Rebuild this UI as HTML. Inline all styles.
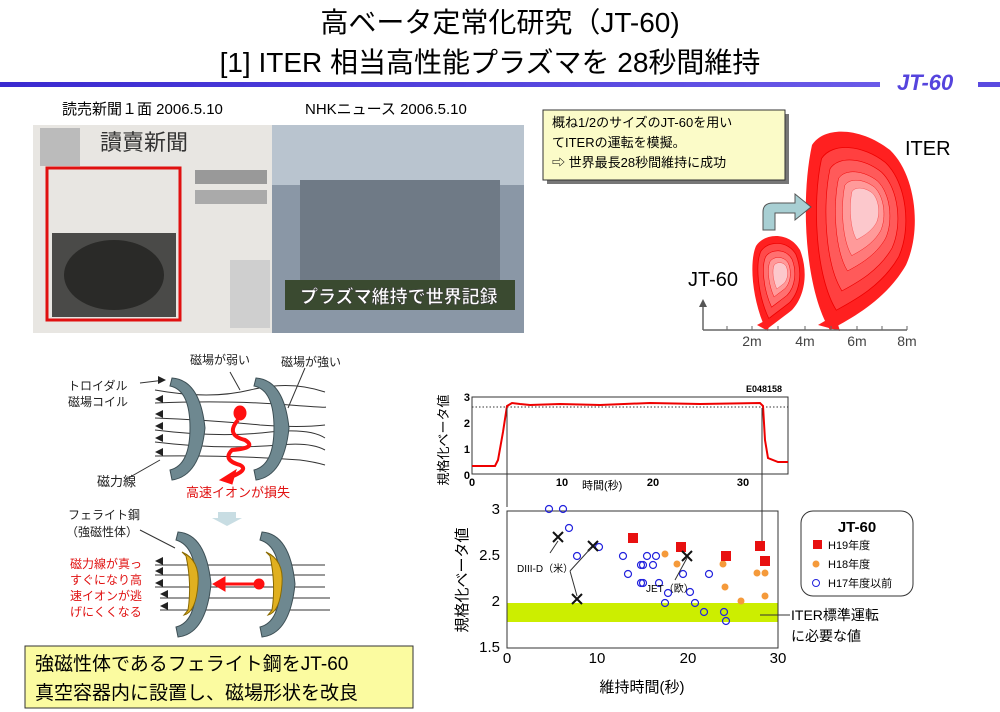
<!DOCTYPE html>
<html><head><meta charset="utf-8"><style>
body{margin:0;background:#fff;width:1000px;height:712px;overflow:hidden}
svg{display:block}
text{font-family:"Liberation Sans","Noto Sans CJK JP",sans-serif}
</style></head><body>
<svg width="1000" height="712" viewBox="0 0 1000 712" xmlns="http://www.w3.org/2000/svg">
<defs>
<linearGradient id="bar" x1="0" x2="1"><stop offset="0" stop-color="#3a2ad0"/><stop offset="1" stop-color="#6a5ae8"/></linearGradient>
<path id="iter" d="M830,330 C805,290 800,200 812,145 C825,125 862,128 890,150 C916,175 922,230 906,265 C886,300 852,318 830,330 Z"/>
<path id="jt" d="M766,330 C752,300 749,262 756,246 C765,232 790,232 800,250 C808,270 806,295 792,310 C782,318 772,325 766,330 Z"/>
</defs>
<!-- title -->
<text x="500" y="32" font-size="28" text-anchor="middle">高ベータ定常化研究（JT-60)</text>
<text x="490" y="72" font-size="28" text-anchor="middle">[1] ITER 相当高性能プラズマを 28秒間維持</text>
<rect x="0" y="82" width="880" height="5" fill="url(#bar)"/>
<rect x="978" y="82" width="22" height="5" fill="#5a4ae0"/>
<text x="897" y="90" font-size="22" font-weight="bold" font-style="italic" fill="#5544dd">JT-60</text>
<!-- photo labels -->
<text x="62" y="114" font-size="15" font-family="Liberation Serif, Noto Serif CJK SC, serif">読売新聞１面 2006.5.10</text>
<text x="305" y="114" font-size="15" font-family="Liberation Serif, Noto Serif CJK SC, serif">NHKニュース 2006.5.10</text>
<!-- newspaper -->
<rect x="33" y="125" width="240" height="208" fill="#e8e6e2"/>
<rect x="40" y="128" width="40" height="38" fill="#bbb"/>
<text x="100" y="150" font-size="22" fill="#333">讀賣新聞</text>
<rect x="195" y="170" width="72" height="14" fill="#999"/>
<rect x="195" y="190" width="72" height="14" fill="#aaa"/>
<rect x="47" y="168" width="133" height="152" fill="none" stroke="#e01010" stroke-width="3"/>
<rect x="52" y="233" width="124" height="84" fill="#4a4a48"/>
<ellipse cx="114" cy="275" rx="50" ry="35" fill="#2a2a28"/>
<rect x="230" y="260" width="40" height="68" fill="#cfcfcf"/>
<!-- NHK -->
<rect x="272" y="125" width="252" height="208" fill="#8a97a6"/>
<rect x="272" y="125" width="252" height="60" fill="#b9c4cf"/>
<rect x="300" y="180" width="200" height="100" fill="#6f7a86"/>
<rect x="285" y="280" width="230" height="30" fill="#3a4a30"/>
<text x="300" y="303" font-size="18" font-weight="bold" fill="#fff" stroke="#333" stroke-width="0.5">プラズマ維持で世界記録</text>
<!-- textbox -->
<rect x="547" y="114" width="242" height="70" fill="#777"/>
<rect x="543" y="110" width="242" height="70" fill="#fbfbc8" stroke="#333"/>
<text x="552" y="127" font-size="13">概ね1/2のサイズのJT-60を用い</text>
<text x="552" y="147" font-size="13">てITERの運転を模擬。</text>
<text x="552" y="167" font-size="13">⇨ 世界最長28秒間維持に成功</text>
<!-- plasmas -->
<g>
<use href="#iter" fill="#ff2020"/>
<use href="#iter" fill="#ff4040" stroke="#e00" transform="translate(865,220) scale(0.82) translate(-865,-220)"/>
<use href="#iter" fill="#ff5a5a" stroke="#e00" transform="translate(865,215) scale(0.66) translate(-865,-215)"/>
<use href="#iter" fill="#ff7a7a" stroke="#e00" transform="translate(865,212) scale(0.5) translate(-865,-212)"/>
<use href="#iter" fill="#ff9a9a" stroke="#e00" transform="translate(865,210) scale(0.38) translate(-865,-210)"/>
<use href="#iter" fill="#fcc8cc" stroke="#e00" transform="translate(866,208) scale(0.26) translate(-866,-208)"/>
<use href="#jt" fill="#ff2020"/>
<use href="#jt" fill="#ff4a4a" stroke="#e00" transform="translate(780,273) scale(0.8) translate(-780,-273)"/>
<use href="#jt" fill="#ff7070" stroke="#e00" transform="translate(780,273) scale(0.6) translate(-780,-273)"/>
<use href="#jt" fill="#ff9a9a" stroke="#e00" transform="translate(780,273) scale(0.42) translate(-780,-273)"/>
<use href="#jt" fill="#fcc8cc" stroke="#e00" transform="translate(781,273) scale(0.28) translate(-781,-273)"/>
<path d="M757,325 L770,318 L768,331 Z" fill="#ff2020"/>
<path d="M818,325 L835,315 L840,331 Z" fill="#ff2020"/>
</g>
<path d="M763,230 V212 Q763,203 773,203 H795 V194 L811,207 L795,220 V213 H775 Q775,213 775,218 V230 Z" fill="#a8cfd3" stroke="#555"/>
<path d="M703,330 H907 M703,330 V305" stroke="#666" stroke-width="1.5" fill="none"/>
<path d="M699,307 L703,299 L707,307 Z" fill="#555"/>
<path d="M727,326V330M752,326V330M778,326V330M805,326V330M831,326V330M857,326V330M882,326V330M907,326V330" stroke="#666"/>
<g font-size="14" fill="#444" text-anchor="middle"><text x="752" y="346">2m</text><text x="805" y="346">4m</text><text x="857" y="346">6m</text><text x="907" y="346">8m</text></g>
<text x="688" y="286" font-size="20">JT-60</text>
<text x="905" y="155" font-size="20">ITER</text>
<!-- left diagram -->
<g font-size="12" fill="#222">
<text x="190" y="364">磁場が弱い</text><text x="281" y="366">磁場が強い</text>
<text x="68" y="390">トロイダル</text><text x="68" y="406">磁場コイル</text>
<text x="97" y="486" font-size="13">磁力線</text>
<text x="186" y="497" fill="#e01010" font-size="13">高速イオンが損失</text>
<text x="68" y="519">フェライト鋼</text><text x="66" y="536">（強磁性体）</text>
</g>
<g font-size="12" fill="#e01010"><text x="70" y="568">磁力線が真っ</text><text x="70" y="584">すぐになり高</text><text x="70" y="600">速イオンが逃</text><text x="70" y="616">げにくくなる</text></g>
<g stroke="#333" fill="none" stroke-width="1">
<path d="M155,403 Q230,400 290,405 Q330,408 325,407"/>
<path d="M155,418 Q210,420 260,425 Q300,428 325,425"/>
<path d="M155,430 Q220,438 270,432 Q310,428 325,438"/>
<path d="M155,442 Q220,450 280,445 Q310,442 325,450"/>
<path d="M155,456 Q230,455 300,460 Q315,462 325,465"/>
<path d="M155,390 Q210,400 250,390 Q290,380 325,392"/>
<path d="M155,565 H325 M155,575 H325 M155,587 H325 M160,598 H330 M160,610 H330"/>
<path d="M140,383 L165,380 M125,480 L160,460 M230,372 L240,390 M305,368 L288,408 M140,530 L175,548"/>
</g>
<g fill="#222"><path d="M155,399 l8,-4 v8z M155,414 l8,-4 v8z M155,426 l8,-4 v8z M155,438 l8,-4 v8z M155,452 l8,-4 v8z M155,561 l8,-4 v8z M155,571 l8,-4 v8z M155,583 l8,-4 v8z M160,594 l8,-4 v8z M160,606 l8,-4 v8z M166,380 l-8,-4 v8z"/></g>
<g fill="#6e8890" stroke="#3d4f55">
<path d="M172,378 Q200,380 205,428 Q200,476 172,480 L170,470 Q190,465 190,428 Q190,390 170,386 Z"/>
<path d="M256,378 Q284,380 289,428 Q284,476 256,480 L254,470 Q274,465 274,428 Q274,390 254,386 Z"/>
<path d="M178,532 Q206,534 211,584 Q206,634 178,637 L176,627 Q196,622 196,584 Q196,546 176,540 Z"/>
<path d="M262,532 Q290,534 295,584 Q290,634 262,637 L260,627 Q280,622 280,584 Q280,546 260,540 Z"/>
</g>
<path d="M182,552 Q200,560 198,584 Q196,612 184,615 L188,610 Q192,584 186,556Z" fill="#e0b020" stroke="#8a6a00"/>
<path d="M266,552 Q284,560 282,584 Q280,612 268,615 L272,610 Q276,584 270,556Z" fill="#e0b020" stroke="#8a6a00"/>
<g fill="#ff1010" stroke="#ff1010">
<ellipse cx="240" cy="413" rx="6" ry="7"/>
<path d="M238,420 Q225,435 245,440 Q258,448 232,450 Q222,460 240,465 Q250,470 228,478" fill="none" stroke-width="4"/>
<path d="M220,480 L236,470 L232,484 Z"/>
<circle cx="259" cy="584" r="5"/>
<path d="M259,584 H215" stroke-width="3"/>
<path d="M213,584 L225,577 L225,591Z"/>
</g>
<path d="M218,512 H236 V518 H242 L227,526 L212,518 H218Z" fill="#c8dde3"/>
<rect x="25" y="646" width="388" height="62" fill="#fbfba0" stroke="#333"/>
<text x="35" y="670" font-size="19">強磁性体であるフェライト鋼をJT-60</text>
<text x="35" y="699" font-size="19">真空容器内に設置し、磁場形状を改良</text>
<!-- top plot -->
<text x="782" y="392" font-size="9" font-weight="bold" text-anchor="end">E048158</text>
<rect x="472" y="397" width="316" height="77" fill="none" stroke="#333"/>
<line x1="472" y1="407" x2="788" y2="407" stroke="#333" stroke-dasharray="1.5,2"/>
<path d="M472,466 H495 L498,460 L503,432 L507,406 L512,403 L520,404 L530,405 L560,404 L600,405 L650,403 L700,404 L760,403 L763,406 L765,440 L768,458 L778,462 H788" fill="none" stroke="#e00" stroke-width="2"/>
<g font-size="11" font-weight="bold" text-anchor="end"><text x="470" y="401">3</text><text x="470" y="427">2</text><text x="470" y="453">1</text><text x="470" y="479">0</text></g>
<g font-size="11" font-weight="bold" text-anchor="middle"><text x="472" y="486">0</text><text x="562" y="486">10</text><text x="653" y="486">20</text><text x="743" y="486">30</text></g>
<text x="582" y="489" font-size="11">時間(秒)</text>
<text transform="translate(448,440) rotate(-90)" font-size="13" text-anchor="middle">規格化ベータ値</text>
<line x1="507" y1="408" x2="507" y2="507" stroke="#333"/>
<line x1="762" y1="408" x2="762" y2="546" stroke="#333"/>
<!-- bottom plot -->
<rect x="507" y="603" width="271" height="19" fill="#ccee00"/>
<rect x="507" y="511" width="271" height="137" fill="none" stroke="#333"/>
<g font-size="15" text-anchor="end"><text x="500" y="514">3</text><text x="500" y="560">2.5</text><text x="500" y="606">2</text><text x="500" y="652">1.5</text></g>
<g font-size="15" text-anchor="middle"><text x="507" y="663">0</text><text x="597" y="663">10</text><text x="688" y="663">20</text><text x="778" y="663">30</text></g>
<text x="642" y="692" font-size="15" text-anchor="middle">維持時間(秒)</text>
<text transform="translate(467,580) rotate(-90)" font-size="15" text-anchor="middle">規格化ベータ値</text>
<g fill="none" stroke="#2222dd" stroke-width="1.2">
<circle cx="549" cy="509" r="3.5"/><circle cx="563" cy="509" r="3.5"/><circle cx="569" cy="528" r="3.5"/><circle cx="577" cy="556" r="3.5"/><circle cx="599" cy="547" r="3.5"/><circle cx="623" cy="556" r="3.5"/><circle cx="628" cy="574" r="3.5"/><circle cx="641" cy="565" r="3.5"/><circle cx="643" cy="565" r="3.5"/><circle cx="647" cy="556" r="3.5"/><circle cx="656" cy="556" r="3.5"/><circle cx="653" cy="565" r="3.5"/><circle cx="641" cy="583" r="3.5"/><circle cx="643" cy="583" r="3.5"/><circle cx="659" cy="583" r="3.5"/><circle cx="683" cy="574" r="3.5"/><circle cx="690" cy="592" r="3.5"/><circle cx="665" cy="603" r="3.5"/><circle cx="668" cy="593" r="3.5"/><circle cx="695" cy="603" r="3.5"/><circle cx="704" cy="612" r="3.5"/><circle cx="709" cy="574" r="3.5"/><circle cx="724" cy="612" r="3.5"/><circle cx="726" cy="621" r="3.5"/>
</g>
<g fill="#f59a3a"><circle cx="665" cy="554" r="3.5"/><circle cx="677" cy="564" r="3.5"/><circle cx="723" cy="564" r="3.5"/><circle cx="725" cy="587" r="3.5"/><circle cx="741" cy="601" r="3.5"/><circle cx="757" cy="573" r="3.5"/><circle cx="765" cy="573" r="3.5"/><circle cx="765" cy="596" r="3.5"/></g>
<g fill="#e81010">
<rect x="628" y="533" width="10" height="10"/><rect x="676" y="542" width="10" height="10"/><rect x="721" y="551" width="10" height="10"/><rect x="755" y="541" width="10" height="10"/><rect x="760" y="556" width="10" height="10"/>
</g>
<g stroke="#111" stroke-width="2">
<path d="M553,532 l10,10 M563,532 l-10,10"/><path d="M588,541 l10,10 M598,541 l-10,10"/><path d="M572,594 l10,10 M582,594 l-10,10"/><path d="M682,551 l10,10 M692,551 l-10,10"/></g>
<g stroke="#333" stroke-width="1" fill="none"><path d="M550,553 L558,541 M570,571 L591,548 M570,571 L577,596 M675,580 L687,558"/></g>
<text x="517" y="572" font-size="10">DIII-D（米）</text>
<text x="646" y="592" font-size="10">JET（欧）</text>
<line x1="760" y1="615" x2="790" y2="615" stroke="#333"/>
<text x="791" y="620" font-size="14">ITER標準運転</text>
<text x="791" y="641" font-size="14">に必要な値</text>
<rect x="801" y="511" width="112" height="85" rx="12" fill="#fff" stroke="#333"/>
<text x="857" y="532" font-size="15" font-weight="bold" text-anchor="middle">JT-60</text>
<rect x="813" y="540" width="9" height="9" fill="#e81010"/><text x="828" y="549" font-size="11">H19年度</text>
<circle cx="816" cy="564" r="3.5" fill="#f59a3a"/><text x="828" y="568" font-size="11">H18年度</text>
<circle cx="816" cy="583" r="3.5" fill="none" stroke="#2222dd"/><text x="828" y="587" font-size="11">H17年度以前</text>
</svg>
</body></html>
